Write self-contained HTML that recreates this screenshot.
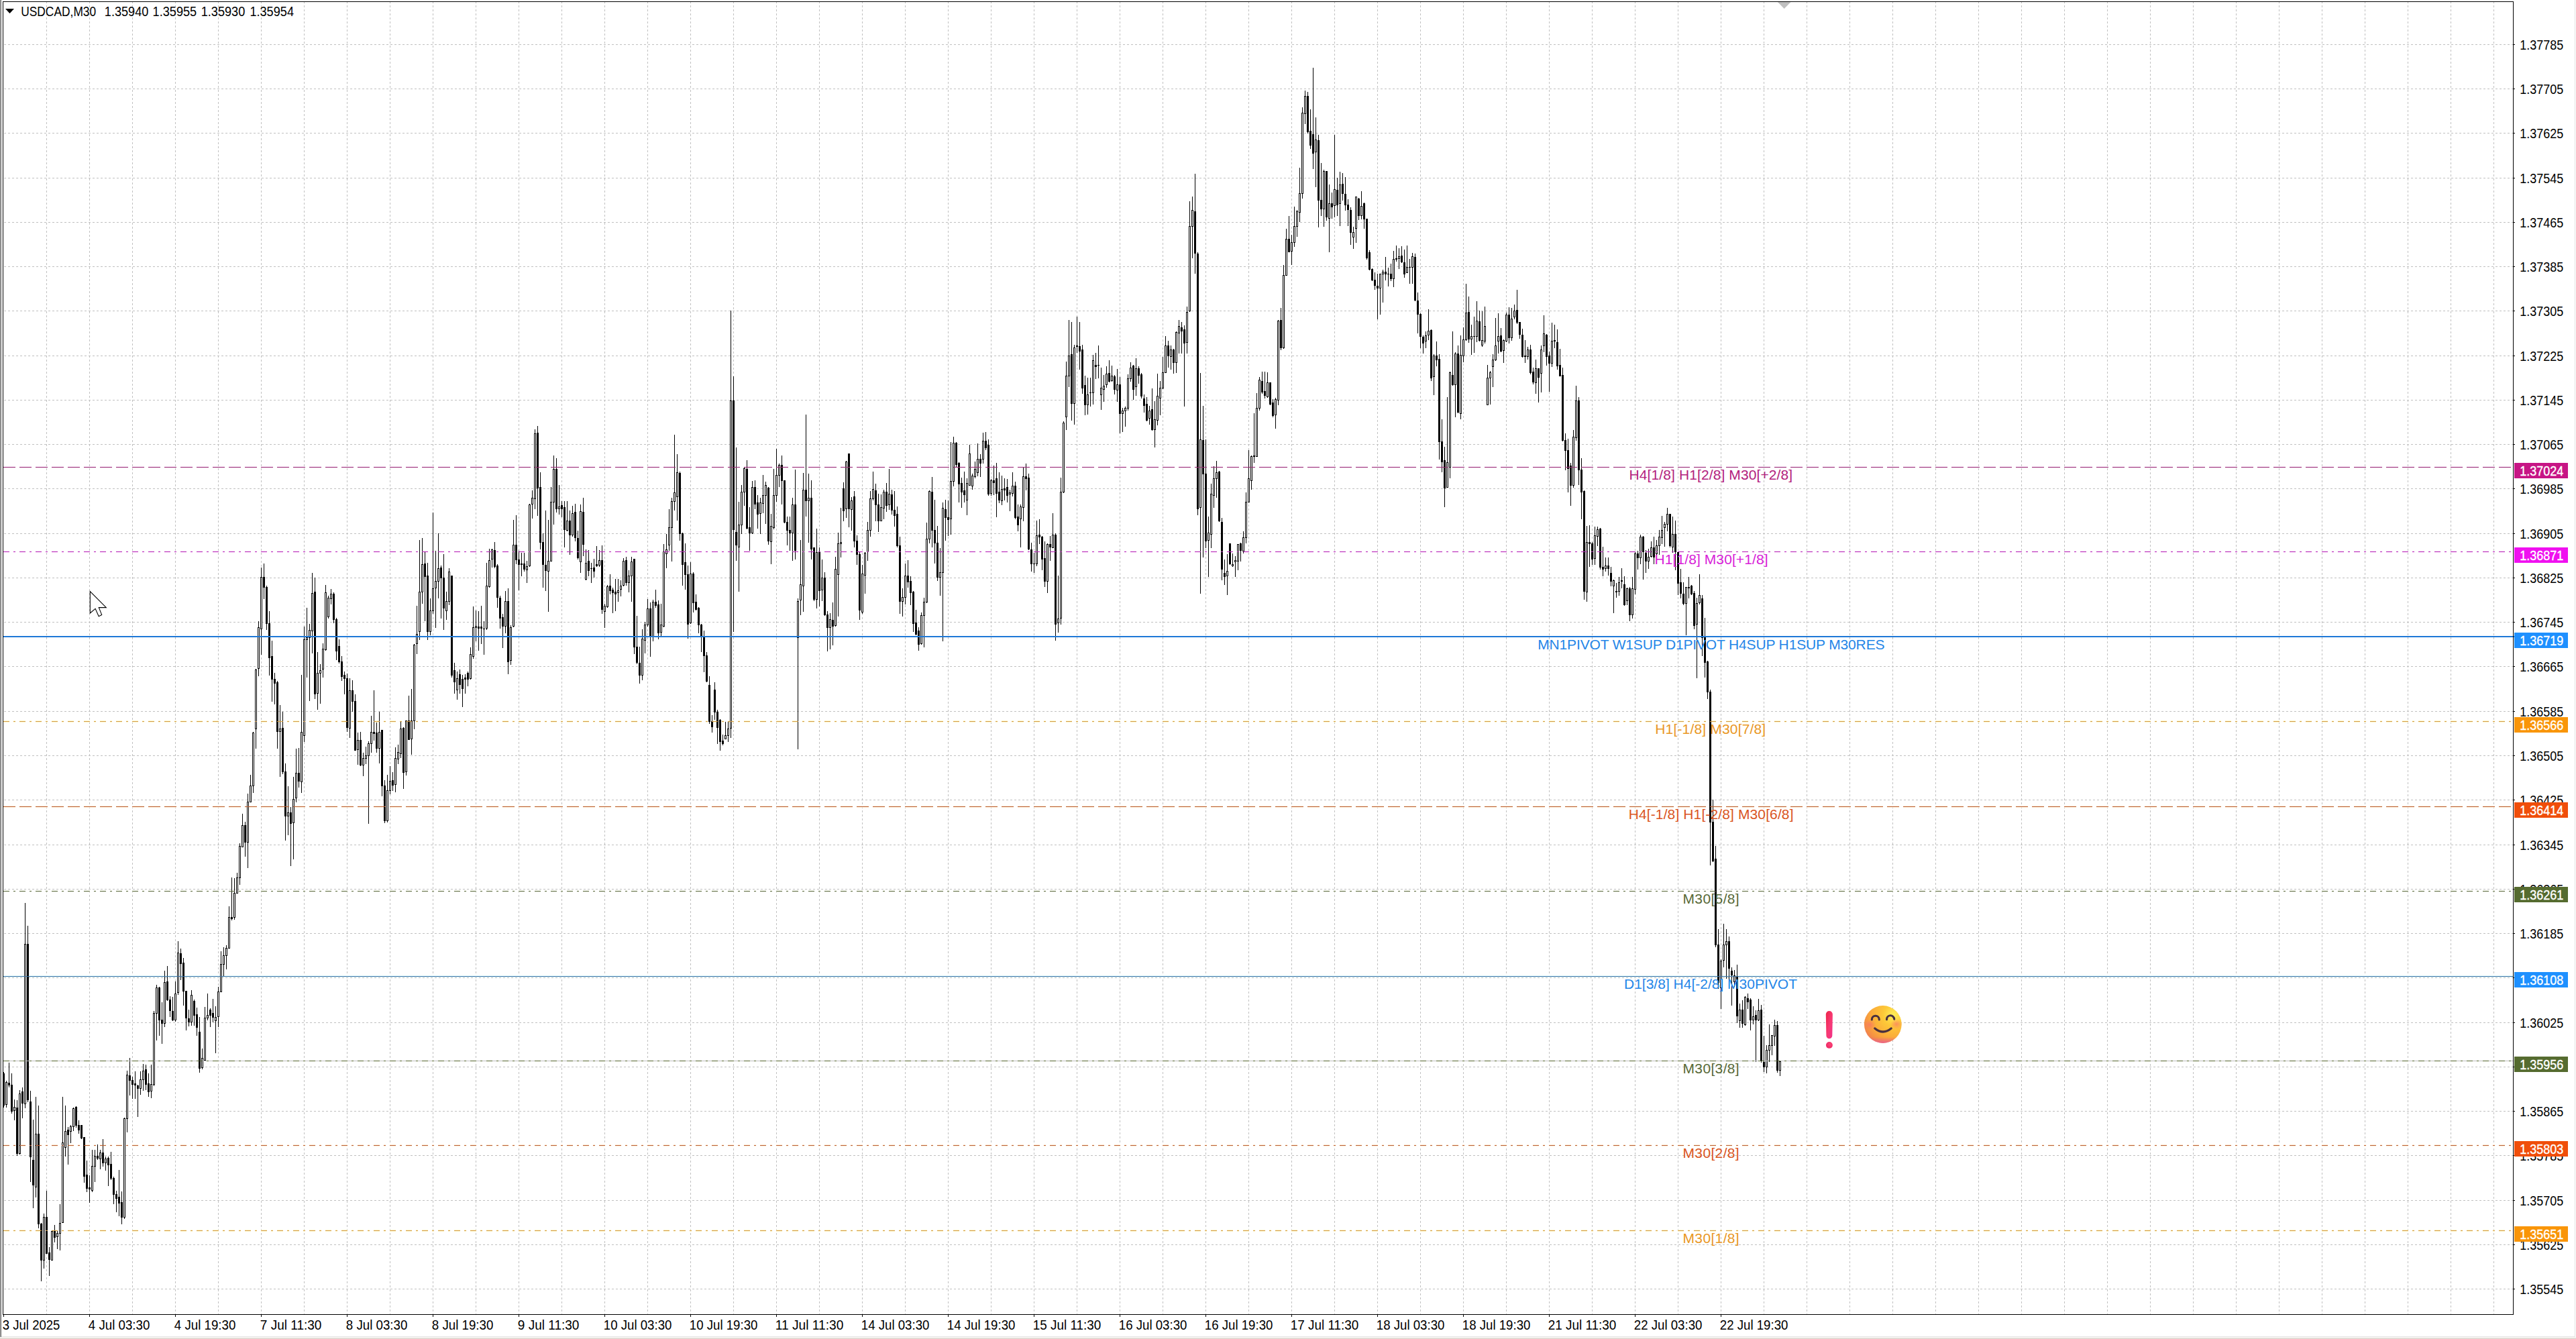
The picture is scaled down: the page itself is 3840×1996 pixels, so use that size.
<!DOCTYPE html><html><head><meta charset="utf-8"><title>USDCAD,M30</title>
<style>
html,body{margin:0;padding:0;background:#fff;}
body{width:3840px;height:1996px;position:relative;font-family:"Liberation Sans",sans-serif;}
svg{display:block}
text{font-family:"Liberation Sans",sans-serif;}
.ax{font-size:19.3px;fill:#000}
.axw{font-size:19.3px;fill:#fff;stroke:#fff;stroke-width:0.35px}
.lv{font-size:21px}
</style></head><body>
<svg width="3840" height="1996" viewBox="0 0 3840 1996">
<rect x="0" y="0" width="3840" height="1996" fill="#fff"/>
<g shape-rendering="crispEdges">
<rect x="0" y="0" width="1" height="1993" fill="#a5a5a5"/>
<rect x="1" y="0" width="1" height="1993" fill="#696969"/>
<rect x="3838" y="0" width="1" height="1993" fill="#e3e3e3"/>
<rect x="2" y="1992" width="3837" height="1" fill="#e4e2e2"/>
<rect x="0" y="1994" width="3840" height="2" fill="#e2dcd5"/>
</g>
<g shape-rendering="crispEdges" stroke="#c0c0c0" stroke-width="1" fill="none">
<line x1="69.5" y1="2" x2="69.5" y2="1959" stroke-dasharray="3 3"/>
<line x1="133.5" y1="2" x2="133.5" y2="1959" stroke-dasharray="3 3"/>
<line x1="197.5" y1="2" x2="197.5" y2="1959" stroke-dasharray="3 3"/>
<line x1="261.5" y1="2" x2="261.5" y2="1959" stroke-dasharray="3 3"/>
<line x1="325.5" y1="2" x2="325.5" y2="1959" stroke-dasharray="3 3"/>
<line x1="389.5" y1="2" x2="389.5" y2="1959" stroke-dasharray="3 3"/>
<line x1="453.5" y1="2" x2="453.5" y2="1959" stroke-dasharray="3 3"/>
<line x1="517.5" y1="2" x2="517.5" y2="1959" stroke-dasharray="3 3"/>
<line x1="581.5" y1="2" x2="581.5" y2="1959" stroke-dasharray="3 3"/>
<line x1="645.5" y1="2" x2="645.5" y2="1959" stroke-dasharray="3 3"/>
<line x1="709.5" y1="2" x2="709.5" y2="1959" stroke-dasharray="3 3"/>
<line x1="773.5" y1="2" x2="773.5" y2="1959" stroke-dasharray="3 3"/>
<line x1="837.5" y1="2" x2="837.5" y2="1959" stroke-dasharray="3 3"/>
<line x1="901.5" y1="2" x2="901.5" y2="1959" stroke-dasharray="3 3"/>
<line x1="965.5" y1="2" x2="965.5" y2="1959" stroke-dasharray="3 3"/>
<line x1="1029.5" y1="2" x2="1029.5" y2="1959" stroke-dasharray="3 3"/>
<line x1="1093.5" y1="2" x2="1093.5" y2="1959" stroke-dasharray="3 3"/>
<line x1="1157.5" y1="2" x2="1157.5" y2="1959" stroke-dasharray="3 3"/>
<line x1="1221.5" y1="2" x2="1221.5" y2="1959" stroke-dasharray="3 3"/>
<line x1="1285.5" y1="2" x2="1285.5" y2="1959" stroke-dasharray="3 3"/>
<line x1="1349.5" y1="2" x2="1349.5" y2="1959" stroke-dasharray="3 3"/>
<line x1="1413.5" y1="2" x2="1413.5" y2="1959" stroke-dasharray="3 3"/>
<line x1="1477.5" y1="2" x2="1477.5" y2="1959" stroke-dasharray="3 3"/>
<line x1="1541.5" y1="2" x2="1541.5" y2="1959" stroke-dasharray="3 3"/>
<line x1="1605.5" y1="2" x2="1605.5" y2="1959" stroke-dasharray="3 3"/>
<line x1="1669.5" y1="2" x2="1669.5" y2="1959" stroke-dasharray="3 3"/>
<line x1="1733.5" y1="2" x2="1733.5" y2="1959" stroke-dasharray="3 3"/>
<line x1="1797.5" y1="2" x2="1797.5" y2="1959" stroke-dasharray="3 3"/>
<line x1="1861.5" y1="2" x2="1861.5" y2="1959" stroke-dasharray="3 3"/>
<line x1="1925.5" y1="2" x2="1925.5" y2="1959" stroke-dasharray="3 3"/>
<line x1="1989.5" y1="2" x2="1989.5" y2="1959" stroke-dasharray="3 3"/>
<line x1="2053.5" y1="2" x2="2053.5" y2="1959" stroke-dasharray="3 3"/>
<line x1="2117.5" y1="2" x2="2117.5" y2="1959" stroke-dasharray="3 3"/>
<line x1="2181.5" y1="2" x2="2181.5" y2="1959" stroke-dasharray="3 3"/>
<line x1="2245.5" y1="2" x2="2245.5" y2="1959" stroke-dasharray="3 3"/>
<line x1="2309.5" y1="2" x2="2309.5" y2="1959" stroke-dasharray="3 3"/>
<line x1="2373.5" y1="2" x2="2373.5" y2="1959" stroke-dasharray="3 3"/>
<line x1="2437.5" y1="2" x2="2437.5" y2="1959" stroke-dasharray="3 3"/>
<line x1="2501.5" y1="2" x2="2501.5" y2="1959" stroke-dasharray="3 3"/>
<line x1="2565.5" y1="2" x2="2565.5" y2="1959" stroke-dasharray="3 3"/>
<line x1="2629.5" y1="2" x2="2629.5" y2="1959" stroke-dasharray="3 3"/>
<line x1="2693.5" y1="2" x2="2693.5" y2="1959" stroke-dasharray="3 3"/>
<line x1="2757.5" y1="2" x2="2757.5" y2="1959" stroke-dasharray="3 3"/>
<line x1="2821.5" y1="2" x2="2821.5" y2="1959" stroke-dasharray="3 3"/>
<line x1="2885.5" y1="2" x2="2885.5" y2="1959" stroke-dasharray="3 3"/>
<line x1="2949.5" y1="2" x2="2949.5" y2="1959" stroke-dasharray="3 3"/>
<line x1="3013.5" y1="2" x2="3013.5" y2="1959" stroke-dasharray="3 3"/>
<line x1="3077.5" y1="2" x2="3077.5" y2="1959" stroke-dasharray="3 3"/>
<line x1="3141.5" y1="2" x2="3141.5" y2="1959" stroke-dasharray="3 3"/>
<line x1="3205.5" y1="2" x2="3205.5" y2="1959" stroke-dasharray="3 3"/>
<line x1="3269.5" y1="2" x2="3269.5" y2="1959" stroke-dasharray="3 3"/>
<line x1="3333.5" y1="2" x2="3333.5" y2="1959" stroke-dasharray="3 3"/>
<line x1="3397.5" y1="2" x2="3397.5" y2="1959" stroke-dasharray="3 3"/>
<line x1="3461.5" y1="2" x2="3461.5" y2="1959" stroke-dasharray="3 3"/>
<line x1="3525.5" y1="2" x2="3525.5" y2="1959" stroke-dasharray="3 3"/>
<line x1="3589.5" y1="2" x2="3589.5" y2="1959" stroke-dasharray="3 3"/>
<line x1="3653.5" y1="2" x2="3653.5" y2="1959" stroke-dasharray="3 3"/>
<line x1="3717.5" y1="2" x2="3717.5" y2="1959" stroke-dasharray="3 3"/>
<line x1="6" y1="66.5" x2="3746" y2="66.5" stroke-dasharray="3 3"/>
<line x1="6" y1="132.5" x2="3746" y2="132.5" stroke-dasharray="3 3"/>
<line x1="6" y1="198.5" x2="3746" y2="198.5" stroke-dasharray="3 3"/>
<line x1="6" y1="265.5" x2="3746" y2="265.5" stroke-dasharray="3 3"/>
<line x1="6" y1="331.5" x2="3746" y2="331.5" stroke-dasharray="3 3"/>
<line x1="6" y1="397.5" x2="3746" y2="397.5" stroke-dasharray="3 3"/>
<line x1="6" y1="463.5" x2="3746" y2="463.5" stroke-dasharray="3 3"/>
<line x1="6" y1="530.5" x2="3746" y2="530.5" stroke-dasharray="3 3"/>
<line x1="6" y1="596.5" x2="3746" y2="596.5" stroke-dasharray="3 3"/>
<line x1="6" y1="662.5" x2="3746" y2="662.5" stroke-dasharray="3 3"/>
<line x1="6" y1="728.5" x2="3746" y2="728.5" stroke-dasharray="3 3"/>
<line x1="6" y1="795.5" x2="3746" y2="795.5" stroke-dasharray="3 3"/>
<line x1="6" y1="861.5" x2="3746" y2="861.5" stroke-dasharray="3 3"/>
<line x1="6" y1="927.5" x2="3746" y2="927.5" stroke-dasharray="3 3"/>
<line x1="6" y1="993.5" x2="3746" y2="993.5" stroke-dasharray="3 3"/>
<line x1="6" y1="1060.5" x2="3746" y2="1060.5" stroke-dasharray="3 3"/>
<line x1="6" y1="1126.5" x2="3746" y2="1126.5" stroke-dasharray="3 3"/>
<line x1="6" y1="1192.5" x2="3746" y2="1192.5" stroke-dasharray="3 3"/>
<line x1="6" y1="1259.5" x2="3746" y2="1259.5" stroke-dasharray="3 3"/>
<line x1="6" y1="1325.5" x2="3746" y2="1325.5" stroke-dasharray="3 3"/>
<line x1="6" y1="1391.5" x2="3746" y2="1391.5" stroke-dasharray="3 3"/>
<line x1="6" y1="1457.5" x2="3746" y2="1457.5" stroke-dasharray="3 3"/>
<line x1="6" y1="1524.5" x2="3746" y2="1524.5" stroke-dasharray="3 3"/>
<line x1="6" y1="1590.5" x2="3746" y2="1590.5" stroke-dasharray="3 3"/>
<line x1="6" y1="1656.5" x2="3746" y2="1656.5" stroke-dasharray="3 3"/>
<line x1="6" y1="1722.5" x2="3746" y2="1722.5" stroke-dasharray="3 3"/>
<line x1="6" y1="1789.5" x2="3746" y2="1789.5" stroke-dasharray="3 3"/>
<line x1="6" y1="1855.5" x2="3746" y2="1855.5" stroke-dasharray="3 3"/>
<line x1="6" y1="1921.5" x2="3746" y2="1921.5" stroke-dasharray="3 3"/>
</g>
<polygon points="2650,3 2669.5,3 2659.7,13" fill="#c0c0c0"/>
<g shape-rendering="crispEdges" fill="none">
<line x1="5" y1="695.5" x2="3744" y2="695.5" stroke="#ffebff" stroke-width="1" stroke-dasharray="18 6"/>
<line x1="5" y1="697.5" x2="3744" y2="697.5" stroke="#ffebff" stroke-width="1" stroke-dasharray="18 6"/>
<line x1="5" y1="821.5" x2="3744" y2="821.5" stroke="#ffe3ff" stroke-width="1" stroke-dasharray="9 6 3 6"/>
<line x1="5" y1="823.5" x2="3744" y2="823.5" stroke="#ffe3ff" stroke-width="1" stroke-dasharray="9 6 3 6"/>
<line x1="5" y1="1074.5" x2="3744" y2="1074.5" stroke="#fffbd1" stroke-width="1" stroke-dasharray="9 6 3 6"/>
<line x1="5" y1="1076.5" x2="3744" y2="1076.5" stroke="#fffbd1" stroke-width="1" stroke-dasharray="9 6 3 6"/>
<line x1="5" y1="1201.5" x2="3744" y2="1201.5" stroke="#fff3de" stroke-width="1" stroke-dasharray="18 6"/>
<line x1="5" y1="1203.5" x2="3744" y2="1203.5" stroke="#fff3de" stroke-width="1" stroke-dasharray="18 6"/>
<line x1="5" y1="1327.5" x2="3744" y2="1327.5" stroke="#fcfff1" stroke-width="1" stroke-dasharray="9 6 3 6"/>
<line x1="5" y1="1329.5" x2="3744" y2="1329.5" stroke="#fcfff1" stroke-width="1" stroke-dasharray="9 6 3 6"/>
<line x1="5" y1="1454.5" x2="3746" y2="1454.5" stroke="#e9ffff" stroke-width="1"/>
<line x1="5" y1="1456.5" x2="3746" y2="1456.5" stroke="#e9ffff" stroke-width="1"/>
<line x1="5" y1="1580.5" x2="3744" y2="1580.5" stroke="#fcfff1" stroke-width="1" stroke-dasharray="9 6 3 6"/>
<line x1="5" y1="1582.5" x2="3744" y2="1582.5" stroke="#fcfff1" stroke-width="1" stroke-dasharray="9 6 3 6"/>
<line x1="5" y1="1706.5" x2="3744" y2="1706.5" stroke="#fff3de" stroke-width="1" stroke-dasharray="9 6 3 6"/>
<line x1="5" y1="1708.5" x2="3744" y2="1708.5" stroke="#fff3de" stroke-width="1" stroke-dasharray="9 6 3 6"/>
<line x1="5" y1="1833.5" x2="3744" y2="1833.5" stroke="#fffbd1" stroke-width="1" stroke-dasharray="9 6 3 6"/>
<line x1="5" y1="1835.5" x2="3744" y2="1835.5" stroke="#fffbd1" stroke-width="1" stroke-dasharray="9 6 3 6"/>
</g>
<g shape-rendering="crispEdges">
<path d="M5.5,1598V1651M9.5,1611V1651M13.5,1584V1621M17.5,1600V1660M21.5,1639V1670M25.5,1640V1723M29.5,1625V1721M33.5,1621V1667M37.5,1346V1652M41.5,1380V1643M45.5,1626V1762M49.5,1669V1801M53.5,1635V1785M57.5,1648V1831M61.5,1823V1910M65.5,1809V1891M69.5,1775V1869M73.5,1859V1902M77.5,1835V1879M81.5,1826V1852M85.5,1835V1862M89.5,1795V1864M93.5,1635V1823M97.5,1648V1724M101.5,1680V1736M105.5,1677V1704M109.5,1651V1686M113.5,1649V1681M117.5,1670V1690M121.5,1677V1698M125.5,1695V1763M129.5,1730V1777M133.5,1752V1793M137.5,1714V1777M141.5,1714V1762M145.5,1706V1729M149.5,1714V1743M153.5,1698V1739M157.5,1724V1745M161.5,1724V1768M165.5,1717V1759M169.5,1754V1795M173.5,1775V1807M177.5,1744V1813M181.5,1776V1825M185.5,1666V1817M189.5,1596V1688M193.5,1577V1633M197.5,1605V1638M201.5,1597V1638M205.5,1617V1665M209.5,1597V1632M213.5,1586V1626M217.5,1587V1625M221.5,1600V1635M225.5,1587V1637M229.5,1507V1619M233.5,1468V1551M237.5,1471V1544M241.5,1494V1556M245.5,1447V1531M249.5,1440V1492M253.5,1485V1516M257.5,1486V1522M261.5,1463V1523M265.5,1403V1483M269.5,1414V1461M273.5,1428V1499M277.5,1477V1536M281.5,1505V1530M285.5,1476V1529M289.5,1490V1529M293.5,1502V1544M297.5,1516V1599M301.5,1563V1594M305.5,1501V1582M309.5,1481V1521M313.5,1503V1531M317.5,1489V1524M321.5,1500V1570M325.5,1471V1531M329.5,1418V1479M333.5,1412V1456M337.5,1409V1445M341.5,1351V1414M345.5,1308V1372M349.5,1309V1371M353.5,1301V1332M357.5,1257V1319M361.5,1213V1263M365.5,1225V1277M369.5,1183V1294M373.5,1155V1196M377.5,1091V1182M381.5,997V1116M385.5,926V1008M389.5,846V976M393.5,840V893M397.5,873V939M401.5,911V1007M405.5,955V1046M409.5,1003V1050M413.5,1015V1116M417.5,1051V1158M421.5,1061V1154M425.5,1138V1253M429.5,1172V1245M433.5,1203V1291M437.5,1158V1281M441.5,1116V1196M445.5,1115V1174M449.5,1006V1182M453.5,934V1106M457.5,906V1010M461.5,930V1045M465.5,854V974M469.5,861V1042M473.5,972V1058M477.5,990V1049M481.5,959V1010M485.5,872V970M489.5,888V922M493.5,878V901M497.5,883V929M501.5,921V984M505.5,953V989M509.5,978V1015M513.5,1001V1035M517.5,1004V1091M521.5,1011V1100M525.5,1014V1061M529.5,1035V1119M533.5,1092V1140M537.5,1091V1142M541.5,1122V1157M545.5,1113V1139M549.5,1105V1228M553.5,1067V1122M557.5,1029V1104M561.5,1077V1122M565.5,1061V1138M569.5,1088V1187M573.5,1163V1227M577.5,1155V1226M581.5,1142V1184M585.5,1151V1179M589.5,1114V1181M593.5,1110V1139M597.5,1076V1130M601.5,1084V1176M605.5,1074V1156M609.5,1037V1103M613.5,1027V1125M617.5,960V1087M621.5,903V975M625.5,805V954M629.5,802V900M633.5,823V926M637.5,839V954M641.5,892V947M645.5,764V915M649.5,821V936M653.5,795V892M657.5,843V922M661.5,826V939M665.5,882V924M669.5,847V902M673.5,858V1010M677.5,988V1034M681.5,1001V1043M685.5,998V1034M689.5,1006V1054M693.5,1005V1034M697.5,1001V1023M701.5,965V1013M705.5,904V982M709.5,910V956M713.5,911V970M717.5,903V960M721.5,926V976M725.5,839V939M729.5,818V876M733.5,818V846M737.5,808V847M741.5,841V906M745.5,888V937M749.5,915V966M753.5,881V944M757.5,877V1005M761.5,932V991M765.5,775V935M769.5,768V841M773.5,821V880M777.5,824V859M781.5,824V852M785.5,836V869M789.5,751V845M793.5,731V773M797.5,640V759M801.5,635V769M805.5,704V819M809.5,795V876M813.5,761V881M817.5,775V912M821.5,726V837M825.5,679V782M829.5,683V764M833.5,723V767M837.5,747V771M841.5,747V816M845.5,747V792M849.5,761V827M853.5,754V800M857.5,751V807M861.5,791V834M865.5,752V854M869.5,742V829M873.5,819V865M877.5,820V859M881.5,839V869M885.5,833V861M889.5,814V845M893.5,820V845M897.5,813V915M901.5,900V936M905.5,872V906M909.5,856V886M913.5,876V914M917.5,863V911M921.5,863V897M925.5,865V889M929.5,832V874M933.5,830V873M937.5,850V883M941.5,830V897M945.5,833V975M949.5,918V990M953.5,964V1019M957.5,938V1014M961.5,927V974M965.5,893V934M969.5,898V979M973.5,894V956M977.5,879V906M981.5,895V953M985.5,900V949M989.5,811V935M993.5,796V847M997.5,759V821M1001.5,742V837M1005.5,648V761M1009.5,677V776M1013.5,703V806M1017.5,794V873M1021.5,810V879M1025.5,843V952M1029.5,838V930M1033.5,853V913M1037.5,886V910M1041.5,905V944M1045.5,930V972M1049.5,940V1002M1053.5,972V1017M1057.5,1008V1079M1061.5,1066V1092M1065.5,1017V1073M1069.5,1058V1109M1073.5,1072V1119M1077.5,1095V1111M1081.5,1076V1102M1085.5,1076V1106M1089.5,463V1100M1093.5,561V942M1097.5,667V836M1101.5,748V882M1105.5,723V796M1109.5,696V754M1113.5,686V789M1117.5,756V821M1121.5,717V796M1125.5,716V759M1129.5,738V788M1133.5,742V796M1137.5,708V765M1141.5,718V781M1145.5,726V812M1149.5,766V841M1153.5,699V789M1157.5,669V748M1161.5,691V726M1165.5,679V752M1169.5,716V780M1173.5,770V813M1177.5,770V821M1181.5,742V836M1185.5,700V834M1189.5,892V1117M1193.5,805V917M1197.5,705V912M1201.5,618V770M1205.5,706V809M1209.5,716V834M1213.5,816V896M1217.5,788V907M1221.5,816V904M1225.5,834V896M1229.5,853V918M1233.5,911V971M1237.5,914V968M1241.5,898V962M1245.5,830V934M1249.5,794V919M1253.5,757V831M1257.5,719V777M1261.5,687V772M1265.5,676V786M1269.5,741V791M1273.5,732V816M1277.5,798V842M1281.5,823V924M1285.5,842V915M1289.5,823V885M1293.5,778V836M1297.5,732V800M1301.5,703V746M1305.5,721V777M1309.5,736V793M1313.5,737V777M1317.5,730V774M1321.5,720V763M1325.5,699V760M1329.5,730V767M1333.5,732V785M1337.5,755V816M1341.5,800V915M1345.5,877V919M1349.5,840V901M1353.5,835V876M1357.5,859V902M1361.5,881V942M1365.5,909V947M1369.5,935V970M1373.5,913V961M1377.5,891V965M1381.5,779V899M1385.5,731V810M1389.5,711V816M1393.5,745V840M1397.5,784V866M1401.5,817V888M1405.5,749V956M1409.5,745V806M1413.5,746V799M1417.5,659V797M1421.5,651V725M1425.5,659V696M1429.5,689V749M1433.5,712V757M1437.5,703V749M1441.5,713V768M1445.5,663V724M1449.5,706V730M1453.5,688V713M1457.5,661V710M1461.5,677V711M1465.5,645V691M1469.5,644V671M1473.5,655V739M1477.5,714V739M1481.5,694V738M1485.5,690V771M1489.5,704V750M1493.5,709V753M1497.5,713V746M1501.5,714V749M1505.5,730V762M1509.5,704V740M1513.5,718V774M1517.5,752V792M1521.5,752V816M1525.5,696V777M1529.5,691V731M1533.5,706V820M1537.5,809V852M1541.5,824V854M1545.5,776V844M1549.5,774V811M1553.5,799V850M1557.5,807V875M1561.5,810V884M1565.5,799V836M1569.5,765V817M1573.5,795V955M1577.5,858V943M1581.5,712V931M1585.5,628V735M1589.5,539V641M1593.5,477V577M1597.5,480V627M1601.5,514V633M1605.5,472V526M1609.5,480V551M1613.5,514V587M1617.5,560V619M1621.5,563V618M1625.5,563V606M1629.5,529V603M1633.5,526V565M1637.5,515V564M1641.5,548V611M1645.5,559V599M1649.5,546V578M1653.5,537V570M1657.5,545V569M1661.5,559V588M1665.5,550V599M1669.5,562V646M1673.5,608V644M1677.5,606V636M1681.5,558V612M1685.5,540V569M1689.5,544V596M1693.5,534V590M1697.5,546V572M1701.5,556V594M1705.5,588V615M1709.5,592V628M1713.5,605V633M1717.5,579V642M1721.5,598V667M1725.5,557V634M1729.5,568V619M1733.5,532V580M1737.5,501V556M1741.5,508V548M1745.5,515V551M1749.5,520V557M1753.5,494V556M1757.5,477V527M1761.5,480V527M1765.5,485V606M1769.5,457V527M1773.5,300V465M1777.5,293V385M1781.5,259V408M1785.5,376V768M1789.5,556V885M1793.5,605V831M1797.5,655V817M1801.5,770V860M1805.5,721V817M1809.5,695V757M1813.5,687V742M1817.5,702V778M1821.5,772V865M1825.5,834V872M1829.5,826V887M1833.5,810V842M1837.5,825V845M1841.5,829V860M1845.5,811V850M1849.5,809V837M1853.5,792V825M1857.5,734V810M1861.5,671V749M1865.5,679V730M1869.5,616V690M1873.5,586V681M1877.5,562V612M1881.5,554V587M1885.5,554V594M1889.5,555V593M1893.5,570V604M1897.5,595V622M1901.5,593V639M1905.5,477V604M1909.5,459V522M1913.5,395V520M1917.5,341V411M1921.5,322V376M1925.5,350V395M1929.5,308V368M1933.5,313V353M1937.5,250V331M1941.5,160V296M1945.5,135V185M1949.5,137V199M1953.5,163V222M1957.5,101V252M1961.5,175V279M1965.5,201V339M1969.5,243V322M1973.5,253V338M1977.5,255V329M1981.5,275V376M1985.5,287V326M1989.5,201V324M1993.5,265V322M1997.5,256V337M2001.5,258V299M2005.5,264V314M2009.5,297V337M2013.5,309V365M2017.5,338V371M2021.5,293V362M2025.5,295V328M2029.5,285V327M2033.5,302V341M2037.5,326V387M2041.5,373V403M2045.5,400V419M2049.5,406V432M2053.5,408V476M2057.5,408V469M2061.5,402V451M2065.5,383V418M2069.5,399V427M2073.5,393V419M2077.5,374V428M2081.5,366V390M2085.5,370V401M2089.5,367V392M2093.5,372V414M2097.5,366V407M2101.5,386V423M2105.5,377V423M2109.5,378V449M2113.5,436V497M2117.5,467V519M2121.5,500V527M2125.5,494V519M2129.5,461V507M2133.5,491V568M2137.5,528V589M2141.5,509V546M2145.5,528V685M2149.5,625V704M2153.5,666V756M2157.5,592V727M2161.5,554V713M2165.5,494V575M2169.5,525V622M2173.5,515V616M2177.5,500V625M2181.5,488V540M2185.5,423V508M2189.5,442V511M2193.5,484V529M2197.5,472V526M2201.5,449V510M2205.5,463V509M2209.5,464V517M2213.5,457V512M2217.5,544V604M2221.5,553V603M2225.5,528V577M2229.5,474V538M2233.5,467V527M2237.5,489V525M2241.5,506V541M2245.5,466V510M2249.5,458V512M2253.5,459V508M2257.5,454V476M2261.5,432V483M2265.5,480V505M2269.5,490V533M2273.5,507V541M2277.5,517V536M2281.5,514V558M2285.5,548V573M2289.5,536V587M2293.5,549V600M2297.5,515V585M2301.5,470V525M2305.5,498V545M2309.5,524V584M2313.5,481V547M2317.5,484V519M2321.5,491V551M2325.5,520V561M2329.5,548V658M2333.5,646V701M2337.5,654V734M2341.5,690V754M2345.5,641V727M2349.5,575V657M2353.5,592V723M2357.5,683V774M2361.5,731V894M2365.5,784V897M2369.5,783V845M2373.5,808V842M2377.5,785V842M2381.5,785V814M2385.5,787V849M2389.5,815V859M2393.5,831V852M2397.5,831V858M2401.5,845V874M2405.5,864V914M2409.5,869V891M2413.5,860V888M2417.5,847V877M2421.5,859V903M2425.5,876V902M2429.5,875V926M2433.5,860V922M2437.5,822V886M2441.5,821V849M2445.5,797V841M2449.5,799V864M2453.5,820V854M2457.5,818V848M2461.5,807V831M2465.5,800V841M2469.5,805V834M2473.5,790V827M2477.5,769V811M2481.5,778V815M2485.5,757V792M2489.5,766V816M2493.5,770V824M2497.5,776V850M2501.5,822V887M2505.5,848V892M2509.5,868V902M2513.5,875V947M2517.5,860V892M2521.5,872V887M2525.5,881V938M2529.5,891V1011M2533.5,856V901M2537.5,887V978M2541.5,921V1010M2545.5,985V1042M2549.5,1028V1290M2553.5,1192V1285M2557.5,1261V1412M2561.5,1385V1474M2565.5,1430V1504M2569.5,1377V1442M2573.5,1385V1459M2577.5,1396V1472M2581.5,1442V1499M2585.5,1446V1471M2589.5,1438V1525M2593.5,1496V1532M2597.5,1491V1532M2601.5,1485V1529M2605.5,1481V1504M2609.5,1488V1536M2613.5,1500V1527M2617.5,1506V1583M2621.5,1489V1522M2625.5,1498V1584M2629.5,1544V1598M2633.5,1558V1600M2637.5,1527V1583M2641.5,1543V1573M2645.5,1520V1559M2649.5,1522V1599M2653.5,1581V1604" stroke="#000" stroke-width="1" fill="none"/>
<path d="M4,1600h3v48h-3ZM12,1614h3v4h-3ZM16,1617h3v40h-3ZM24,1651h3v69h-3ZM32,1627h3v18h-3ZM40,1407h3v233h-3ZM44,1642h3v83h-3ZM48,1729h3v38h-3ZM56,1690h3v135h-3ZM60,1824h3v55h-3ZM68,1814h3v55h-3ZM72,1867h3v11h-3ZM80,1834h3v11h-3ZM100,1684h3v8h-3ZM112,1650h3v28h-3ZM116,1677h3v8h-3ZM120,1677h3v20h-3ZM124,1695h3v59h-3ZM128,1751h3v21h-3ZM132,1770h3v3h-3ZM144,1723h3v4h-3ZM152,1718h3v16h-3ZM160,1726h3v11h-3ZM164,1735h3v22h-3ZM168,1756h3v25h-3ZM172,1780h3v7h-3ZM176,1784h3v10h-3ZM180,1792h3v23h-3ZM192,1603h3v8h-3ZM196,1610h3v7h-3ZM200,1615h3v3h-3ZM204,1618h3v5h-3ZM216,1594h3v23h-3ZM220,1615h3v13h-3ZM236,1472h3v49h-3ZM240,1520h3v6h-3ZM248,1463h3v28h-3ZM252,1490h3v17h-3ZM256,1507h3v14h-3ZM268,1421h3v16h-3ZM272,1435h3v43h-3ZM276,1477h3v41h-3ZM280,1518h3v6h-3ZM288,1492h3v22h-3ZM292,1512h3v20h-3ZM296,1538h3v55h-3ZM312,1505h3v9h-3ZM316,1510h3v7h-3ZM344,1367h3v3h-3ZM364,1230h3v26h-3ZM392,860h3v16h-3ZM396,875h3v55h-3ZM400,929h3v52h-3ZM404,978h3v35h-3ZM408,1012h3v7h-3ZM412,1017h3v74h-3ZM420,1085h3v66h-3ZM424,1150h3v67h-3ZM432,1211h3v17h-3ZM444,1152h3v13h-3ZM468,882h3v153h-3ZM496,885h3v39h-3ZM500,923h3v48h-3ZM504,963h3v24h-3ZM508,986h3v23h-3ZM512,1006h3v6h-3ZM516,1011h3v74h-3ZM524,1029h3v17h-3ZM528,1045h3v74h-3ZM536,1103h3v38h-3ZM556,1091h3v3h-3ZM560,1092h3v24h-3ZM568,1088h3v84h-3ZM572,1171h3v53h-3ZM584,1163h3v8h-3ZM600,1085h3v67h-3ZM608,1074h3v29h-3ZM632,840h3v20h-3ZM636,858h3v84h-3ZM656,846h3v16h-3ZM660,861h3v46h-3ZM672,858h3v149h-3ZM676,999h3v18h-3ZM684,1005h3v16h-3ZM688,1012h3v15h-3ZM692,1010h3v3h-3ZM696,1003h3v10h-3ZM712,934h3v3h-3ZM716,934h3v3h-3ZM720,937h3v1h-3ZM736,820h3v25h-3ZM740,843h3v48h-3ZM744,891h3v31h-3ZM748,920h3v14h-3ZM756,896h3v91h-3ZM768,812h3v23h-3ZM772,834h3v8h-3ZM776,840h3v2h-3ZM780,840h3v9h-3ZM800,645h3v83h-3ZM804,726h3v83h-3ZM808,808h3v34h-3ZM812,842h3v9h-3ZM828,699h3v60h-3ZM836,753h3v6h-3ZM840,756h3v34h-3ZM848,776h3v22h-3ZM856,763h3v39h-3ZM860,802h3v30h-3ZM868,763h3v49h-3ZM876,836h3v15h-3ZM880,847h3v1h-3ZM884,846h3v6h-3ZM888,841h3v3h-3ZM896,835h3v74h-3ZM908,873h3v8h-3ZM912,879h3v5h-3ZM916,882h3v4h-3ZM932,835h3v34h-3ZM944,833h3v132h-3ZM948,964h3v24h-3ZM952,988h3v19h-3ZM968,907h3v41h-3ZM976,897h3v6h-3ZM980,901h3v43h-3ZM1012,705h3v91h-3ZM1016,795h3v47h-3ZM1020,838h3v19h-3ZM1024,856h3v75h-3ZM1032,855h3v44h-3ZM1036,897h3v12h-3ZM1040,906h3v26h-3ZM1044,931h3v19h-3ZM1048,949h3v29h-3ZM1052,977h3v39h-3ZM1056,1021h3v55h-3ZM1060,1075h3v9h-3ZM1064,1028h3v34h-3ZM1068,1061h3v24h-3ZM1072,1073h3v33h-3ZM1076,1104h3v5h-3ZM1092,597h3v193h-3ZM1096,793h3v20h-3ZM1112,699h3v89h-3ZM1116,786h3v9h-3ZM1124,726h3v26h-3ZM1128,749h3v18h-3ZM1144,727h3v80h-3ZM1164,693h3v24h-3ZM1168,716h3v63h-3ZM1172,778h3v13h-3ZM1176,790h3v5h-3ZM1184,752h3v69h-3ZM1200,730h3v17h-3ZM1208,742h3v77h-3ZM1212,816h3v78h-3ZM1220,823h3v58h-3ZM1228,861h3v56h-3ZM1232,916h3v20h-3ZM1240,924h3v10h-3ZM1256,728h3v34h-3ZM1264,676h3v83h-3ZM1272,740h3v67h-3ZM1276,806h3v21h-3ZM1280,826h3v84h-3ZM1304,731h3v22h-3ZM1308,752h3v25h-3ZM1320,733h3v21h-3ZM1328,737h3v24h-3ZM1332,760h3v9h-3ZM1336,766h3v48h-3ZM1340,813h3v84h-3ZM1352,858h3v10h-3ZM1356,866h3v18h-3ZM1360,882h3v48h-3ZM1364,928h3v18h-3ZM1368,940h3v21h-3ZM1388,733h3v58h-3ZM1392,790h3v20h-3ZM1396,809h3v52h-3ZM1408,759h3v13h-3ZM1412,771h3v4h-3ZM1424,660h3v33h-3ZM1428,690h3v32h-3ZM1432,720h3v14h-3ZM1436,731h3v7h-3ZM1460,684h3v7h-3ZM1468,657h3v11h-3ZM1472,663h3v74h-3ZM1480,716h3v4h-3ZM1484,713h3v23h-3ZM1488,733h3v13h-3ZM1496,728h3v3h-3ZM1500,726h3v13h-3ZM1512,724h3v48h-3ZM1516,770h3v13h-3ZM1528,710h3v4h-3ZM1532,712h3v107h-3ZM1536,819h3v22h-3ZM1540,840h3v1h-3ZM1548,797h3v4h-3ZM1552,800h3v34h-3ZM1556,832h3v35h-3ZM1564,811h3v5h-3ZM1572,797h3v134h-3ZM1596,528h3v74h-3ZM1604,515h3v2h-3ZM1608,516h3v8h-3ZM1612,521h3v58h-3ZM1616,574h3v30h-3ZM1624,585h3v1h-3ZM1632,544h3v3h-3ZM1636,544h3v1h-3ZM1652,556h3v13h-3ZM1660,561h3v20h-3ZM1668,573h3v44h-3ZM1688,545h3v36h-3ZM1696,549h3v11h-3ZM1700,558h3v33h-3ZM1704,594h3v11h-3ZM1708,602h3v25h-3ZM1716,610h3v31h-3ZM1740,515h3v16h-3ZM1748,521h3v20h-3ZM1760,488h3v6h-3ZM1764,491h3v21h-3ZM1780,315h3v63h-3ZM1784,378h3v381h-3ZM1792,656h3v51h-3ZM1796,706h3v101h-3ZM1816,703h3v74h-3ZM1820,778h3v71h-3ZM1824,854h3v6h-3ZM1832,810h3v31h-3ZM1848,810h3v11h-3ZM1868,679h3v2h-3ZM1880,568h3v17h-3ZM1884,583h3v7h-3ZM1892,570h3v33h-3ZM1896,600h3v20h-3ZM1908,477h3v42h-3ZM1920,356h3v20h-3ZM1948,143h3v54h-3ZM1952,195h3v22h-3ZM1956,200h3v29h-3ZM1964,209h3v90h-3ZM1968,298h3v14h-3ZM1976,255h3v69h-3ZM1984,303h3v6h-3ZM1992,283h3v23h-3ZM2000,274h3v15h-3ZM2004,289h3v17h-3ZM2008,305h3v8h-3ZM2012,313h3v34h-3ZM2024,296h3v26h-3ZM2032,303h3v24h-3ZM2036,326h3v59h-3ZM2040,376h3v26h-3ZM2044,401h3v17h-3ZM2048,417h3v9h-3ZM2052,426h3v4h-3ZM2064,405h3v4h-3ZM2068,408h3v1h-3ZM2072,408h3v8h-3ZM2080,385h3v2h-3ZM2088,381h3v10h-3ZM2092,391h3v18h-3ZM2100,398h3v1h-3ZM2108,383h3v65h-3ZM2112,448h3v21h-3ZM2116,468h3v34h-3ZM2120,502h3v10h-3ZM2132,492h3v72h-3ZM2140,530h3v7h-3ZM2144,535h3v124h-3ZM2148,658h3v31h-3ZM2152,686h3v42h-3ZM2164,559h3v15h-3ZM2172,527h3v88h-3ZM2188,465h3v41h-3ZM2196,501h3v1h-3ZM2204,479h3v29h-3ZM2236,500h3v24h-3ZM2248,469h3v35h-3ZM2260,462h3v19h-3ZM2264,480h3v19h-3ZM2268,499h3v33h-3ZM2272,530h3v2h-3ZM2280,521h3v35h-3ZM2284,554h3v16h-3ZM2292,549h3v14h-3ZM2304,499h3v33h-3ZM2308,530h3v12h-3ZM2316,507h3v2h-3ZM2320,510h3v36h-3ZM2324,544h3v17h-3ZM2328,559h3v98h-3ZM2332,656h3v16h-3ZM2336,671h3v28h-3ZM2340,694h3v30h-3ZM2352,597h3v104h-3ZM2356,700h3v34h-3ZM2360,732h3v150h-3ZM2368,808h3v3h-3ZM2372,810h3v24h-3ZM2384,788h3v58h-3ZM2388,845h3v4h-3ZM2396,843h3v5h-3ZM2400,854h3v13h-3ZM2408,881h3v2h-3ZM2416,865h3v2h-3ZM2420,871h3v31h-3ZM2428,877h3v40h-3ZM2440,825h3v7h-3ZM2448,800h3v23h-3ZM2452,824h3v13h-3ZM2464,816h3v15h-3ZM2488,766h3v48h-3ZM2496,796h3v27h-3ZM2500,823h3v47h-3ZM2504,868h3v17h-3ZM2508,885h3v15h-3ZM2516,875h3v2h-3ZM2520,873h3v13h-3ZM2524,884h3v49h-3ZM2536,892h3v59h-3ZM2540,950h3v38h-3ZM2544,986h3v46h-3ZM2548,1031h3v195h-3ZM2552,1225h3v59h-3ZM2556,1280h3v129h-3ZM2560,1408h3v57h-3ZM2576,1403h3v41h-3ZM2580,1447h3v7h-3ZM2588,1455h3v60h-3ZM2596,1505h3v21h-3ZM2604,1488h3v6h-3ZM2608,1490h3v31h-3ZM2616,1513h3v8h-3ZM2624,1505h3v77h-3ZM2628,1583h3v8h-3ZM2648,1528h3v68h-3Z" fill="#000"/>
<path d="M8.5,1613.5H10.5V1646.5H8.5ZM20.5,1650.5H22.5V1655.5H20.5ZM28.5,1630.5H30.5V1719.5H28.5ZM36.5,1407.5H38.5V1645.5H36.5ZM52.5,1690.5H54.5V1769.5H52.5ZM64.5,1814.5H66.5V1878.5H64.5ZM76.5,1835.5H78.5V1878.5H76.5ZM84.5,1838.5H86.5V1843.5H84.5ZM88.5,1823.5H90.5V1838.5H88.5ZM92.5,1703.5H94.5V1822.5H92.5ZM96.5,1686.5H98.5V1710.5H96.5ZM104.5,1679.5H106.5V1686.5H104.5ZM108.5,1652.5H110.5V1679.5H108.5ZM136.5,1738.5H138.5V1774.5H136.5ZM140.5,1723.5H142.5V1738.5H140.5ZM148.5,1718.5H150.5V1727.5H148.5ZM156.5,1727.5H158.5V1733.5H156.5ZM184.5,1667.5H186.5V1814.5H184.5ZM188.5,1602.5H190.5V1667.5H188.5ZM208.5,1609.5H210.5V1622.5H208.5ZM212.5,1596.5H214.5V1609.5H212.5ZM224.5,1616.5H226.5V1626.5H224.5ZM228.5,1510.5H230.5V1616.5H228.5ZM232.5,1472.5H234.5V1510.5H232.5ZM244.5,1464.5H246.5V1525.5H244.5ZM260.5,1481.5H262.5V1520.5H260.5ZM264.5,1420.5H266.5V1479.5H264.5ZM284.5,1483.5H286.5V1523.5H284.5ZM300.5,1577.5H302.5V1591.5H300.5ZM304.5,1517.5H306.5V1580.5H304.5ZM308.5,1513.5H310.5V1517.5H308.5ZM320.5,1516.5H322.5V1521.5H320.5ZM324.5,1478.5H326.5V1515.5H324.5ZM328.5,1437.5H330.5V1478.5H328.5ZM332.5,1424.5H334.5V1437.5H332.5ZM336.5,1413.5H338.5V1424.5H336.5ZM340.5,1367.5H342.5V1413.5H340.5ZM348.5,1331.5H350.5V1367.5H348.5ZM352.5,1308.5H354.5V1331.5H352.5ZM356.5,1261.5H358.5V1308.5H356.5ZM360.5,1230.5H362.5V1262.5H360.5ZM368.5,1195.5H370.5V1255.5H368.5ZM372.5,1171.5H374.5V1195.5H372.5ZM376.5,1092.5H378.5V1171.5H376.5ZM380.5,998.5H382.5V1086.5H380.5ZM384.5,935.5H386.5V996.5H384.5ZM388.5,860.5H390.5V937.5H388.5ZM416.5,1086.5H418.5V1090.5H416.5ZM428.5,1211.5H430.5V1216.5H428.5ZM436.5,1191.5H438.5V1226.5H436.5ZM440.5,1152.5H442.5V1189.5H440.5ZM448.5,1091.5H450.5V1165.5H448.5ZM452.5,953.5H454.5V1096.5H452.5ZM456.5,950.5H458.5V953.5H456.5ZM460.5,939.5H462.5V950.5H460.5ZM464.5,884.5H466.5V940.5H464.5ZM472.5,1003.5H474.5V1033.5H472.5ZM476.5,999.5H478.5V1003.5H476.5ZM480.5,967.5H482.5V997.5H480.5ZM484.5,883.5H486.5V968.5H484.5ZM488.5,891.5H490.5V919.5H488.5ZM492.5,885.5H494.5V892.5H492.5ZM520.5,1029.5H522.5V1085.5H520.5ZM532.5,1103.5H534.5V1117.5H532.5ZM540.5,1130.5H542.5V1140.5H540.5ZM544.5,1126.5H546.5V1130.5H544.5ZM548.5,1108.5H550.5V1126.5H548.5ZM552.5,1091.5H554.5V1108.5H552.5ZM564.5,1091.5H566.5V1115.5H564.5ZM576.5,1178.5H578.5V1223.5H576.5ZM580.5,1164.5H582.5V1178.5H580.5ZM588.5,1130.5H590.5V1169.5H588.5ZM592.5,1121.5H594.5V1131.5H592.5ZM596.5,1086.5H598.5V1123.5H596.5ZM604.5,1074.5H606.5V1150.5H604.5ZM612.5,1074.5H614.5V1101.5H612.5ZM616.5,961.5H618.5V1074.5H616.5ZM620.5,945.5H622.5V959.5H620.5ZM624.5,882.5H626.5V941.5H624.5ZM628.5,841.5H630.5V882.5H628.5ZM640.5,910.5H642.5V941.5H640.5ZM644.5,877.5H646.5V910.5H644.5ZM648.5,866.5H650.5V876.5H648.5ZM652.5,847.5H654.5V866.5H652.5ZM664.5,896.5H666.5V910.5H664.5ZM668.5,852.5H670.5V896.5H668.5ZM680.5,1011.5H682.5V1028.5H680.5ZM700.5,975.5H702.5V1011.5H700.5ZM704.5,935.5H706.5V978.5H704.5ZM708.5,933.5H710.5V935.5H708.5ZM724.5,873.5H726.5V936.5H724.5ZM728.5,835.5H730.5V874.5H728.5ZM732.5,819.5H734.5V833.5H732.5ZM752.5,896.5H754.5V933.5H752.5ZM760.5,935.5H762.5V984.5H760.5ZM764.5,812.5H766.5V933.5H764.5ZM784.5,844.5H786.5V849.5H784.5ZM788.5,752.5H790.5V843.5H788.5ZM792.5,742.5H794.5V751.5H792.5ZM796.5,646.5H798.5V743.5H796.5ZM816.5,836.5H818.5V851.5H816.5ZM820.5,748.5H822.5V836.5H820.5ZM824.5,699.5H826.5V748.5H824.5ZM832.5,755.5H834.5V758.5H832.5ZM844.5,776.5H846.5V790.5H844.5ZM852.5,765.5H854.5V797.5H852.5ZM864.5,762.5H866.5V837.5H864.5ZM872.5,839.5H874.5V863.5H872.5ZM892.5,835.5H894.5V842.5H892.5ZM900.5,903.5H902.5V911.5H900.5ZM904.5,874.5H906.5V904.5H904.5ZM920.5,880.5H922.5V883.5H920.5ZM924.5,873.5H926.5V878.5H924.5ZM928.5,836.5H930.5V872.5H928.5ZM936.5,858.5H938.5V868.5H936.5ZM940.5,837.5H942.5V858.5H940.5ZM956.5,952.5H958.5V1006.5H956.5ZM960.5,931.5H962.5V954.5H960.5ZM964.5,907.5H966.5V931.5H964.5ZM972.5,897.5H974.5V948.5H972.5ZM984.5,931.5H986.5V942.5H984.5ZM988.5,822.5H990.5V933.5H988.5ZM992.5,819.5H994.5V825.5H992.5ZM996.5,786.5H998.5V812.5H996.5ZM1000.5,747.5H1002.5V786.5H1000.5ZM1004.5,734.5H1006.5V747.5H1004.5ZM1008.5,704.5H1010.5V740.5H1008.5ZM1028.5,855.5H1030.5V928.5H1028.5ZM1080.5,1096.5H1082.5V1101.5H1080.5ZM1084.5,1086.5H1086.5V1096.5H1084.5ZM1088.5,597.5H1090.5V1085.5H1088.5ZM1100.5,782.5H1102.5V815.5H1100.5ZM1104.5,733.5H1106.5V782.5H1104.5ZM1108.5,698.5H1110.5V733.5H1108.5ZM1120.5,726.5H1122.5V794.5H1120.5ZM1132.5,749.5H1134.5V765.5H1132.5ZM1136.5,738.5H1138.5V750.5H1136.5ZM1140.5,723.5H1142.5V738.5H1140.5ZM1148.5,784.5H1150.5V807.5H1148.5ZM1152.5,738.5H1154.5V786.5H1152.5ZM1156.5,708.5H1158.5V738.5H1156.5ZM1160.5,693.5H1162.5V708.5H1160.5ZM1180.5,752.5H1182.5V794.5H1180.5ZM1188.5,896.5H1190.5V950.5H1188.5ZM1192.5,871.5H1194.5V894.5H1192.5ZM1196.5,730.5H1198.5V873.5H1196.5ZM1204.5,742.5H1206.5V746.5H1204.5ZM1216.5,823.5H1218.5V893.5H1216.5ZM1224.5,861.5H1226.5V879.5H1224.5ZM1236.5,923.5H1238.5V935.5H1236.5ZM1244.5,848.5H1246.5V932.5H1244.5ZM1248.5,810.5H1250.5V856.5H1248.5ZM1252.5,808.5H1254.5V810.5H1252.5ZM1260.5,688.5H1262.5V758.5H1260.5ZM1268.5,746.5H1270.5V759.5H1268.5ZM1284.5,855.5H1286.5V912.5H1284.5ZM1288.5,824.5H1290.5V857.5H1288.5ZM1292.5,790.5H1294.5V822.5H1292.5ZM1296.5,743.5H1298.5V790.5H1296.5ZM1300.5,729.5H1302.5V743.5H1300.5ZM1312.5,756.5H1314.5V776.5H1312.5ZM1316.5,733.5H1318.5V757.5H1316.5ZM1324.5,736.5H1326.5V752.5H1324.5ZM1344.5,890.5H1346.5V896.5H1344.5ZM1348.5,858.5H1350.5V890.5H1348.5ZM1372.5,917.5H1374.5V959.5H1372.5ZM1376.5,897.5H1378.5V917.5H1376.5ZM1380.5,803.5H1382.5V897.5H1380.5ZM1384.5,732.5H1386.5V803.5H1384.5ZM1400.5,853.5H1402.5V860.5H1400.5ZM1404.5,757.5H1406.5V853.5H1404.5ZM1416.5,717.5H1418.5V773.5H1416.5ZM1420.5,660.5H1422.5V717.5H1420.5ZM1440.5,720.5H1442.5V745.5H1440.5ZM1444.5,676.5H1446.5V723.5H1444.5ZM1448.5,709.5H1450.5V724.5H1448.5ZM1452.5,699.5H1454.5V710.5H1452.5ZM1456.5,684.5H1458.5V704.5H1456.5ZM1464.5,657.5H1466.5V684.5H1464.5ZM1476.5,716.5H1478.5V735.5H1476.5ZM1492.5,729.5H1494.5V746.5H1492.5ZM1504.5,734.5H1506.5V736.5H1504.5ZM1508.5,724.5H1510.5V735.5H1508.5ZM1520.5,755.5H1522.5V773.5H1520.5ZM1524.5,710.5H1526.5V756.5H1524.5ZM1544.5,798.5H1546.5V840.5H1544.5ZM1560.5,811.5H1562.5V866.5H1560.5ZM1568.5,797.5H1570.5V816.5H1568.5ZM1576.5,922.5H1578.5V928.5H1576.5ZM1580.5,733.5H1582.5V921.5H1580.5ZM1584.5,630.5H1586.5V733.5H1584.5ZM1588.5,560.5H1590.5V621.5H1588.5ZM1592.5,530.5H1594.5V560.5H1592.5ZM1600.5,518.5H1602.5V601.5H1600.5ZM1620.5,588.5H1622.5V603.5H1620.5ZM1628.5,537.5H1630.5V585.5H1628.5ZM1640.5,578.5H1642.5V588.5H1640.5ZM1644.5,575.5H1646.5V580.5H1644.5ZM1648.5,557.5H1650.5V573.5H1648.5ZM1656.5,560.5H1658.5V567.5H1656.5ZM1664.5,573.5H1666.5V581.5H1664.5ZM1672.5,612.5H1674.5V616.5H1672.5ZM1676.5,608.5H1678.5V612.5H1676.5ZM1680.5,564.5H1682.5V608.5H1680.5ZM1684.5,548.5H1686.5V564.5H1684.5ZM1692.5,549.5H1694.5V576.5H1692.5ZM1712.5,612.5H1714.5V623.5H1712.5ZM1720.5,625.5H1722.5V640.5H1720.5ZM1724.5,590.5H1726.5V626.5H1724.5ZM1728.5,578.5H1730.5V593.5H1728.5ZM1732.5,555.5H1734.5V578.5H1732.5ZM1736.5,515.5H1738.5V555.5H1736.5ZM1744.5,521.5H1746.5V531.5H1744.5ZM1752.5,495.5H1754.5V540.5H1752.5ZM1756.5,486.5H1758.5V496.5H1756.5ZM1768.5,465.5H1770.5V510.5H1768.5ZM1772.5,337.5H1774.5V463.5H1772.5ZM1776.5,313.5H1778.5V337.5H1776.5ZM1788.5,655.5H1790.5V756.5H1788.5ZM1800.5,794.5H1802.5V805.5H1800.5ZM1804.5,736.5H1806.5V796.5H1804.5ZM1808.5,713.5H1810.5V738.5H1808.5ZM1812.5,704.5H1814.5V713.5H1812.5ZM1828.5,851.5H1830.5V858.5H1828.5ZM1836.5,841.5H1838.5V843.5H1836.5ZM1840.5,835.5H1842.5V837.5H1840.5ZM1844.5,811.5H1846.5V836.5H1844.5ZM1852.5,801.5H1854.5V821.5H1852.5ZM1856.5,748.5H1858.5V801.5H1856.5ZM1860.5,713.5H1862.5V748.5H1860.5ZM1864.5,680.5H1866.5V716.5H1864.5ZM1872.5,608.5H1874.5V680.5H1872.5ZM1876.5,566.5H1878.5V608.5H1876.5ZM1888.5,570.5H1890.5V591.5H1888.5ZM1900.5,595.5H1902.5V618.5H1900.5ZM1904.5,478.5H1906.5V596.5H1904.5ZM1912.5,410.5H1914.5V518.5H1912.5ZM1916.5,356.5H1918.5V410.5H1916.5ZM1924.5,361.5H1926.5V374.5H1924.5ZM1928.5,337.5H1930.5V361.5H1928.5ZM1932.5,315.5H1934.5V337.5H1932.5ZM1936.5,288.5H1938.5V316.5H1936.5ZM1940.5,168.5H1942.5V288.5H1940.5ZM1944.5,143.5H1946.5V169.5H1944.5ZM1960.5,208.5H1962.5V226.5H1960.5ZM1972.5,255.5H1974.5V311.5H1972.5ZM1980.5,303.5H1982.5V325.5H1980.5ZM1988.5,282.5H1990.5V306.5H1988.5ZM1996.5,275.5H1998.5V303.5H1996.5ZM2016.5,346.5H2018.5V353.5H2016.5ZM2020.5,293.5H2022.5V340.5H2020.5ZM2028.5,307.5H2030.5V321.5H2028.5ZM2056.5,408.5H2058.5V429.5H2056.5ZM2060.5,405.5H2062.5V408.5H2060.5ZM2076.5,386.5H2078.5V415.5H2076.5ZM2084.5,382.5H2086.5V385.5H2084.5ZM2096.5,398.5H2098.5V406.5H2096.5ZM2104.5,382.5H2106.5V398.5H2104.5ZM2124.5,500.5H2126.5V508.5H2124.5ZM2128.5,493.5H2130.5V499.5H2128.5ZM2136.5,530.5H2138.5V561.5H2136.5ZM2156.5,689.5H2158.5V726.5H2156.5ZM2160.5,555.5H2162.5V696.5H2160.5ZM2168.5,527.5H2170.5V573.5H2168.5ZM2176.5,529.5H2178.5V616.5H2176.5ZM2180.5,506.5H2182.5V530.5H2180.5ZM2184.5,466.5H2186.5V506.5H2184.5ZM2192.5,501.5H2194.5V505.5H2192.5ZM2200.5,478.5H2202.5V501.5H2200.5ZM2208.5,507.5H2210.5V514.5H2208.5ZM2212.5,486.5H2214.5V508.5H2212.5ZM2216.5,563.5H2218.5V603.5H2216.5ZM2220.5,555.5H2222.5V563.5H2220.5ZM2224.5,536.5H2226.5V546.5H2224.5ZM2228.5,515.5H2230.5V536.5H2228.5ZM2232.5,501.5H2234.5V508.5H2232.5ZM2240.5,507.5H2242.5V522.5H2240.5ZM2244.5,469.5H2246.5V508.5H2244.5ZM2252.5,475.5H2254.5V503.5H2252.5ZM2256.5,463.5H2258.5V472.5H2256.5ZM2276.5,521.5H2278.5V531.5H2276.5ZM2288.5,549.5H2290.5V570.5H2288.5ZM2296.5,521.5H2298.5V556.5H2296.5ZM2300.5,497.5H2302.5V515.5H2300.5ZM2312.5,508.5H2314.5V541.5H2312.5ZM2344.5,651.5H2346.5V723.5H2344.5ZM2348.5,597.5H2350.5V652.5H2348.5ZM2364.5,808.5H2366.5V882.5H2364.5ZM2376.5,798.5H2378.5V832.5H2376.5ZM2380.5,789.5H2382.5V799.5H2380.5ZM2392.5,843.5H2394.5V847.5H2392.5ZM2404.5,865.5H2406.5V873.5H2404.5ZM2412.5,868.5H2414.5V881.5H2412.5ZM2424.5,877.5H2426.5V895.5H2424.5ZM2432.5,877.5H2434.5V916.5H2432.5ZM2436.5,825.5H2438.5V878.5H2436.5ZM2444.5,800.5H2446.5V831.5H2444.5ZM2456.5,830.5H2458.5V836.5H2456.5ZM2460.5,816.5H2462.5V829.5H2460.5ZM2468.5,813.5H2470.5V825.5H2468.5ZM2472.5,800.5H2474.5V813.5H2472.5ZM2476.5,790.5H2478.5V801.5H2476.5ZM2480.5,781.5H2482.5V786.5H2480.5ZM2484.5,766.5H2486.5V781.5H2484.5ZM2492.5,796.5H2494.5V815.5H2492.5ZM2512.5,875.5H2514.5V899.5H2512.5ZM2528.5,899.5H2530.5V930.5H2528.5ZM2532.5,887.5H2534.5V898.5H2532.5ZM2564.5,1432.5H2566.5V1472.5H2564.5ZM2568.5,1408.5H2570.5V1431.5H2568.5ZM2572.5,1403.5H2574.5V1408.5H2572.5ZM2584.5,1454.5H2586.5V1463.5H2584.5ZM2592.5,1505.5H2594.5V1521.5H2592.5ZM2600.5,1486.5H2602.5V1527.5H2600.5ZM2612.5,1515.5H2614.5V1520.5H2612.5ZM2620.5,1506.5H2622.5V1520.5H2620.5ZM2632.5,1565.5H2634.5V1590.5H2632.5ZM2636.5,1558.5H2638.5V1565.5H2636.5ZM2640.5,1543.5H2642.5V1558.5H2640.5ZM2644.5,1528.5H2646.5V1544.5H2644.5ZM2652.5,1582.5H2654.5V1595.5H2652.5Z" fill="#fff" stroke="#000" stroke-width="1"/>
</g>
<g shape-rendering="crispEdges" fill="none">
<line x1="5" y1="696.5" x2="3744" y2="696.5" stroke="#953370" stroke-width="1" stroke-dasharray="18 6"/>
<line x1="5" y1="822.5" x2="3744" y2="822.5" stroke="#b53ab5" stroke-width="1" stroke-dasharray="9 6 3 6"/>
<line x1="5" y1="949" x2="3748" y2="949" stroke="#1e78d7" stroke-width="2"/>
<line x1="5" y1="1075.5" x2="3744" y2="1075.5" stroke="#d29b4e" stroke-width="1" stroke-dasharray="9 6 3 6"/>
<line x1="5" y1="1202.5" x2="3744" y2="1202.5" stroke="#b9603b" stroke-width="1" stroke-dasharray="18 6"/>
<line x1="5" y1="1328.5" x2="3744" y2="1328.5" stroke="#596544" stroke-width="1" stroke-dasharray="9 6 3 6"/>
<line x1="5" y1="1455.5" x2="3746" y2="1455.5" stroke="#3f71a5" stroke-width="1"/>
<line x1="5" y1="1581.5" x2="3746" y2="1581.5" stroke="#c0c0c0" stroke-width="1"/>
<line x1="5" y1="1581.5" x2="3744" y2="1581.5" stroke="#596544" stroke-width="1" stroke-dasharray="9 6 3 6"/>
<line x1="5" y1="1707.5" x2="3744" y2="1707.5" stroke="#b9603b" stroke-width="1" stroke-dasharray="9 6 3 6"/>
<line x1="5" y1="1834.5" x2="3744" y2="1834.5" stroke="#d29b4e" stroke-width="1" stroke-dasharray="9 6 3 6"/>
</g>
<text class="lv" x="2428.5" y="714.8" fill="#b3217d" textLength="243.7" lengthAdjust="spacing">H4[1/8] H1[2/8] M30[+2/8]</text>
<text class="lv" x="2466.5" y="840.8" fill="#d821d8" textLength="169.0" lengthAdjust="spacing">H1[1/8] M30[+1/8]</text>
<text class="lv" x="2292.2" y="967.8" fill="#2486e8" textLength="517.3" lengthAdjust="spacing">MN1PIVOT W1SUP D1PIVOT H4SUP H1SUP M30RES</text>
<text class="lv" x="2467.2" y="1093.8" fill="#e99724" textLength="165.0" lengthAdjust="spacing">H1[-1/8] M30[7/8]</text>
<text class="lv" x="2427.7" y="1220.8" fill="#da551e" textLength="245.8" lengthAdjust="spacing">H4[-1/8] H1[-2/8] M30[6/8]</text>
<text class="lv" x="2508.5" y="1346.8" fill="#576937" textLength="84.2" lengthAdjust="spacing">M30[5/8]</text>
<text class="lv" x="2421.0" y="1473.8" fill="#2486e8" textLength="258.0" lengthAdjust="spacing">D1[3/8] H4[-2/8] M30PIVOT</text>
<text class="lv" x="2508.5" y="1599.8" fill="#576937" textLength="84.2" lengthAdjust="spacing">M30[3/8]</text>
<text class="lv" x="2508.5" y="1725.8" fill="#da551e" textLength="84.2" lengthAdjust="spacing">M30[2/8]</text>
<text class="lv" x="2508.5" y="1852.8" fill="#e99724" textLength="84.2" lengthAdjust="spacing">M30[1/8]</text>
<g shape-rendering="crispEdges" fill="#000">
<rect x="4" y="2" width="3743" height="1"/>
<rect x="4" y="2" width="1" height="1958"/>
<rect x="3746" y="2" width="1" height="1958"/>
<rect x="4" y="1959" width="3743" height="1"/>
<rect x="3747" y="66" width="2" height="1"/>
<rect x="3747" y="132" width="2" height="1"/>
<rect x="3747" y="198" width="2" height="1"/>
<rect x="3747" y="265" width="2" height="1"/>
<rect x="3747" y="331" width="2" height="1"/>
<rect x="3747" y="397" width="2" height="1"/>
<rect x="3747" y="463" width="2" height="1"/>
<rect x="3747" y="530" width="2" height="1"/>
<rect x="3747" y="596" width="2" height="1"/>
<rect x="3747" y="662" width="2" height="1"/>
<rect x="3747" y="728" width="2" height="1"/>
<rect x="3747" y="795" width="2" height="1"/>
<rect x="3747" y="861" width="2" height="1"/>
<rect x="3747" y="927" width="2" height="1"/>
<rect x="3747" y="993" width="2" height="1"/>
<rect x="3747" y="1060" width="2" height="1"/>
<rect x="3747" y="1126" width="2" height="1"/>
<rect x="3747" y="1192" width="2" height="1"/>
<rect x="3747" y="1259" width="2" height="1"/>
<rect x="3747" y="1325" width="2" height="1"/>
<rect x="3747" y="1391" width="2" height="1"/>
<rect x="3747" y="1457" width="2" height="1"/>
<rect x="3747" y="1524" width="2" height="1"/>
<rect x="3747" y="1590" width="2" height="1"/>
<rect x="3747" y="1656" width="2" height="1"/>
<rect x="3747" y="1722" width="2" height="1"/>
<rect x="3747" y="1789" width="2" height="1"/>
<rect x="3747" y="1855" width="2" height="1"/>
<rect x="3747" y="1921" width="2" height="1"/>
<rect x="5" y="1960" width="1" height="3"/>
<rect x="133" y="1960" width="1" height="3"/>
<rect x="261" y="1960" width="1" height="3"/>
<rect x="389" y="1960" width="1" height="3"/>
<rect x="517" y="1960" width="1" height="3"/>
<rect x="645" y="1960" width="1" height="3"/>
<rect x="773" y="1960" width="1" height="3"/>
<rect x="901" y="1960" width="1" height="3"/>
<rect x="1029" y="1960" width="1" height="3"/>
<rect x="1157" y="1960" width="1" height="3"/>
<rect x="1285" y="1960" width="1" height="3"/>
<rect x="1413" y="1960" width="1" height="3"/>
<rect x="1541" y="1960" width="1" height="3"/>
<rect x="1669" y="1960" width="1" height="3"/>
<rect x="1797" y="1960" width="1" height="3"/>
<rect x="1925" y="1960" width="1" height="3"/>
<rect x="2053" y="1960" width="1" height="3"/>
<rect x="2181" y="1960" width="1" height="3"/>
<rect x="2309" y="1960" width="1" height="3"/>
<rect x="2437" y="1960" width="1" height="3"/>
<rect x="2565" y="1960" width="1" height="3"/>
</g>
<text class="ax" x="3756.2" y="73.8" textLength="65" lengthAdjust="spacingAndGlyphs">1.37785</text>
<text class="ax" x="3756.2" y="139.8" textLength="65" lengthAdjust="spacingAndGlyphs">1.37705</text>
<text class="ax" x="3756.2" y="205.8" textLength="65" lengthAdjust="spacingAndGlyphs">1.37625</text>
<text class="ax" x="3756.2" y="272.8" textLength="65" lengthAdjust="spacingAndGlyphs">1.37545</text>
<text class="ax" x="3756.2" y="338.8" textLength="65" lengthAdjust="spacingAndGlyphs">1.37465</text>
<text class="ax" x="3756.2" y="404.8" textLength="65" lengthAdjust="spacingAndGlyphs">1.37385</text>
<text class="ax" x="3756.2" y="470.8" textLength="65" lengthAdjust="spacingAndGlyphs">1.37305</text>
<text class="ax" x="3756.2" y="537.8" textLength="65" lengthAdjust="spacingAndGlyphs">1.37225</text>
<text class="ax" x="3756.2" y="603.8" textLength="65" lengthAdjust="spacingAndGlyphs">1.37145</text>
<text class="ax" x="3756.2" y="669.8" textLength="65" lengthAdjust="spacingAndGlyphs">1.37065</text>
<text class="ax" x="3756.2" y="735.8" textLength="65" lengthAdjust="spacingAndGlyphs">1.36985</text>
<text class="ax" x="3756.2" y="802.8" textLength="65" lengthAdjust="spacingAndGlyphs">1.36905</text>
<text class="ax" x="3756.2" y="868.8" textLength="65" lengthAdjust="spacingAndGlyphs">1.36825</text>
<text class="ax" x="3756.2" y="934.8" textLength="65" lengthAdjust="spacingAndGlyphs">1.36745</text>
<text class="ax" x="3756.2" y="1000.8" textLength="65" lengthAdjust="spacingAndGlyphs">1.36665</text>
<text class="ax" x="3756.2" y="1067.8" textLength="65" lengthAdjust="spacingAndGlyphs">1.36585</text>
<text class="ax" x="3756.2" y="1133.8" textLength="65" lengthAdjust="spacingAndGlyphs">1.36505</text>
<text class="ax" x="3756.2" y="1199.8" textLength="65" lengthAdjust="spacingAndGlyphs">1.36425</text>
<text class="ax" x="3756.2" y="1266.8" textLength="65" lengthAdjust="spacingAndGlyphs">1.36345</text>
<text class="ax" x="3756.2" y="1332.8" textLength="65" lengthAdjust="spacingAndGlyphs">1.36265</text>
<text class="ax" x="3756.2" y="1398.8" textLength="65" lengthAdjust="spacingAndGlyphs">1.36185</text>
<text class="ax" x="3756.2" y="1464.8" textLength="65" lengthAdjust="spacingAndGlyphs">1.36105</text>
<text class="ax" x="3756.2" y="1531.8" textLength="65" lengthAdjust="spacingAndGlyphs">1.36025</text>
<text class="ax" x="3756.2" y="1597.8" textLength="65" lengthAdjust="spacingAndGlyphs">1.35945</text>
<text class="ax" x="3756.2" y="1663.8" textLength="65" lengthAdjust="spacingAndGlyphs">1.35865</text>
<text class="ax" x="3756.2" y="1729.8" textLength="65" lengthAdjust="spacingAndGlyphs">1.35785</text>
<text class="ax" x="3756.2" y="1796.8" textLength="65" lengthAdjust="spacingAndGlyphs">1.35705</text>
<text class="ax" x="3756.2" y="1862.8" textLength="65" lengthAdjust="spacingAndGlyphs">1.35625</text>
<text class="ax" x="3756.2" y="1928.8" textLength="65" lengthAdjust="spacingAndGlyphs">1.35545</text>
<rect x="3748" y="690" width="80" height="23" fill="#c71585" shape-rendering="crispEdges"/>
<text class="axw" x="3756.2" y="709.3" textLength="65" lengthAdjust="spacingAndGlyphs">1.37024</text>
<rect x="3748" y="816" width="80" height="23" fill="#f010f0" shape-rendering="crispEdges"/>
<text class="axw" x="3756.2" y="835.3" textLength="65" lengthAdjust="spacingAndGlyphs">1.36871</text>
<rect x="3748" y="943" width="80" height="23" fill="#1e90ff" shape-rendering="crispEdges"/>
<text class="axw" x="3756.2" y="962.3" textLength="65" lengthAdjust="spacingAndGlyphs">1.36719</text>
<rect x="3748" y="1069" width="80" height="23" fill="#f99508" shape-rendering="crispEdges"/>
<text class="axw" x="3756.2" y="1088.3" textLength="65" lengthAdjust="spacingAndGlyphs">1.36566</text>
<rect x="3748" y="1196" width="80" height="23" fill="#f04e0a" shape-rendering="crispEdges"/>
<text class="axw" x="3756.2" y="1215.3" textLength="65" lengthAdjust="spacingAndGlyphs">1.36414</text>
<rect x="3748" y="1322" width="80" height="23" fill="#556b2f" shape-rendering="crispEdges"/>
<text class="axw" x="3756.2" y="1341.3" textLength="65" lengthAdjust="spacingAndGlyphs">1.36261</text>
<rect x="3748" y="1449" width="80" height="23" fill="#1e90ff" shape-rendering="crispEdges"/>
<text class="axw" x="3756.2" y="1468.3" textLength="65" lengthAdjust="spacingAndGlyphs">1.36108</text>
<rect x="3748" y="1575" width="80" height="23" fill="#556b2f" shape-rendering="crispEdges"/>
<text class="axw" x="3756.2" y="1594.3" textLength="65" lengthAdjust="spacingAndGlyphs">1.35956</text>
<rect x="3748" y="1701" width="80" height="23" fill="#f04e0a" shape-rendering="crispEdges"/>
<text class="axw" x="3756.2" y="1720.3" textLength="65" lengthAdjust="spacingAndGlyphs">1.35803</text>
<rect x="3748" y="1828" width="80" height="23" fill="#f99508" shape-rendering="crispEdges"/>
<text class="axw" x="3756.2" y="1847.3" textLength="65" lengthAdjust="spacingAndGlyphs">1.35651</text>
<text class="ax" x="3.8" y="1981.9" textLength="85.6" lengthAdjust="spacingAndGlyphs">3 Jul 2025</text>
<text class="ax" x="131.8" y="1981.9" textLength="91.6" lengthAdjust="spacingAndGlyphs">4 Jul 03:30</text>
<text class="ax" x="259.8" y="1981.9" textLength="91.6" lengthAdjust="spacingAndGlyphs">4 Jul 19:30</text>
<text class="ax" x="387.8" y="1981.9" textLength="91.6" lengthAdjust="spacingAndGlyphs">7 Jul 11:30</text>
<text class="ax" x="515.8" y="1981.9" textLength="91.6" lengthAdjust="spacingAndGlyphs">8 Jul 03:30</text>
<text class="ax" x="643.8" y="1981.9" textLength="91.6" lengthAdjust="spacingAndGlyphs">8 Jul 19:30</text>
<text class="ax" x="771.8" y="1981.9" textLength="91.6" lengthAdjust="spacingAndGlyphs">9 Jul 11:30</text>
<text class="ax" x="899.8" y="1981.9" textLength="101.6" lengthAdjust="spacingAndGlyphs">10 Jul 03:30</text>
<text class="ax" x="1027.8" y="1981.9" textLength="101.6" lengthAdjust="spacingAndGlyphs">10 Jul 19:30</text>
<text class="ax" x="1155.8" y="1981.9" textLength="101.6" lengthAdjust="spacingAndGlyphs">11 Jul 11:30</text>
<text class="ax" x="1283.8" y="1981.9" textLength="101.6" lengthAdjust="spacingAndGlyphs">14 Jul 03:30</text>
<text class="ax" x="1411.8" y="1981.9" textLength="101.6" lengthAdjust="spacingAndGlyphs">14 Jul 19:30</text>
<text class="ax" x="1539.8" y="1981.9" textLength="101.6" lengthAdjust="spacingAndGlyphs">15 Jul 11:30</text>
<text class="ax" x="1667.8" y="1981.9" textLength="101.6" lengthAdjust="spacingAndGlyphs">16 Jul 03:30</text>
<text class="ax" x="1795.8" y="1981.9" textLength="101.6" lengthAdjust="spacingAndGlyphs">16 Jul 19:30</text>
<text class="ax" x="1923.8" y="1981.9" textLength="101.6" lengthAdjust="spacingAndGlyphs">17 Jul 11:30</text>
<text class="ax" x="2051.8" y="1981.9" textLength="101.6" lengthAdjust="spacingAndGlyphs">18 Jul 03:30</text>
<text class="ax" x="2179.8" y="1981.9" textLength="101.6" lengthAdjust="spacingAndGlyphs">18 Jul 19:30</text>
<text class="ax" x="2307.8" y="1981.9" textLength="101.6" lengthAdjust="spacingAndGlyphs">21 Jul 11:30</text>
<text class="ax" x="2435.8" y="1981.9" textLength="101.6" lengthAdjust="spacingAndGlyphs">22 Jul 03:30</text>
<text class="ax" x="2563.8" y="1981.9" textLength="101.6" lengthAdjust="spacingAndGlyphs">22 Jul 19:30</text>
<polygon points="8,13 21,13 14.5,20" fill="#000"/>
<text class="ax" x="31.2" y="23.8" textLength="112" lengthAdjust="spacingAndGlyphs">USDCAD,M30</text>
<text class="ax" x="155.8" y="23.8" textLength="65.6" lengthAdjust="spacingAndGlyphs">1.35940</text>
<text class="ax" x="227.6" y="23.8" textLength="65.6" lengthAdjust="spacingAndGlyphs">1.35955</text>
<text class="ax" x="299.7" y="23.8" textLength="65.6" lengthAdjust="spacingAndGlyphs">1.35930</text>
<text class="ax" x="372.4" y="23.8" textLength="65.6" lengthAdjust="spacingAndGlyphs">1.35954</text>
<defs>
<linearGradient id="ex" x1="0" y1="0" x2="1" y2="1"><stop offset="0" stop-color="#ec2447"/><stop offset="0.55" stop-color="#f83a74"/><stop offset="1" stop-color="#f0308c"/></linearGradient>
<radialGradient id="exd" cx="0.6" cy="0.4" r="0.7"><stop offset="0" stop-color="#fb4576"/><stop offset="1" stop-color="#ec2463"/></radialGradient>
<radialGradient id="fc" cx="0.78" cy="0.25" r="0.95"><stop offset="0" stop-color="#fff05a"/><stop offset="0.3" stop-color="#fdc838"/><stop offset="0.62" stop-color="#fbac3a"/><stop offset="0.85" stop-color="#f48d45"/><stop offset="1" stop-color="#ec7060"/></radialGradient>
<linearGradient id="fb" x1="0" y1="0" x2="0" y2="1"><stop offset="0.84" stop-color="#e8589a" stop-opacity="0"/><stop offset="1" stop-color="#e8589a" stop-opacity="0.8"/></linearGradient>
<radialGradient id="bl" cx="0.5" cy="0.5" r="0.5"><stop offset="0" stop-color="#f86a70" stop-opacity="0.6"/><stop offset="1" stop-color="#f86a70" stop-opacity="0"/></radialGradient>
</defs>
<path d="M2721.8,1512 a5.05,5.05 0 0 1 10.1,0 L2731.3,1543.8 a4.45,4.45 0 0 1 -8.9,0 Z" fill="url(#ex)"/>
<circle cx="2726.9" cy="1557.9" r="4.95" fill="url(#exd)"/>
<circle cx="2806.8" cy="1527" r="27.9" fill="url(#fc)"/>
<circle cx="2806.8" cy="1527" r="27.9" fill="url(#fb)"/>
<ellipse cx="2787.5" cy="1527.5" rx="9" ry="7.5" fill="url(#bl)"/>
<ellipse cx="2827" cy="1526.5" rx="9" ry="7.5" fill="url(#bl)"/>
<path d="M2790.3,1519.9 A5.5,5.7 0 0 1 2801.3,1519.9" fill="none" stroke="#48303f" stroke-width="3.1" stroke-linecap="round"/>
<path d="M2812.5,1519.7 A5.6,5.7 0 0 1 2823.7,1519.3" fill="none" stroke="#48303f" stroke-width="3.1" stroke-linecap="round"/>
<path d="M2794.8,1533 Q2807,1543 2819.2,1533" fill="none" stroke="#48303f" stroke-width="3.2" stroke-linecap="round"/>
<polygon points="134.3,881.5 134.3,914 142.1,907.3 147.2,918.8 151.7,916.4 147.3,905.6 158.3,905.6" fill="#fff" stroke="#000" stroke-width="1.1" stroke-linejoin="miter"/>
</svg></body></html>
